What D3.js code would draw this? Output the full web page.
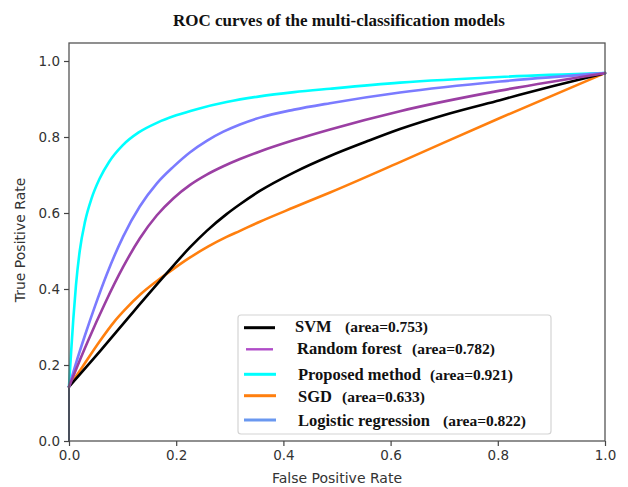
<!DOCTYPE html>
<html><head><meta charset="utf-8">
<script src="https://cdn.jsdelivr.net/npm/d3@7"></script>
<style>body{margin:0;background:#fff}</style>
</head><body><svg id="c" width="628" height="487"></svg>
<script>
// ---- data ----
const xTicks = [0, 0.2, 0.4, 0.6, 0.8, 1.0];
const yTicks = [0, 0.2, 0.4, 0.6, 0.8, 1.0];
const seriesNames = ["SVM", "Random forest", "Proposed method", "SGD", "Logistic regression"];
const seriesAreas = ["(area=0.753)", "(area=0.782)", "(area=0.921)", "(area=0.633)", "(area=0.822)"];

const svmFPR = [0, 0, 0.06, 0.12, 0.182, 0.226, 0.257, 0.294, 0.319, 0.356, 0.42, 0.487, 0.555, 0.6175, 0.71, 0.804, 0.9, 1.0];
const svmTPR = [0, 0.143, 0.24, 0.34, 0.441, 0.51, 0.553, 0.597, 0.623, 0.658, 0.707, 0.75, 0.788, 0.821, 0.862, 0.897, 0.933, 0.968];

const rfFPR = [0, 0, 0.015, 0.035, 0.067, 0.101, 0.132, 0.164, 0.195, 0.226, 0.257, 0.288, 0.319, 0.356, 0.42, 0.487, 0.6175, 0.804, 1.0];
const rfTPR = [0, 0.143, 0.195, 0.262, 0.362, 0.458, 0.533, 0.594, 0.639, 0.674, 0.701, 0.723, 0.742, 0.762, 0.792, 0.82, 0.868, 0.922, 0.968];

const propFPR = [0, 0, 0.004, 0.008, 0.013, 0.02, 0.03, 0.042, 0.057, 0.075, 0.1, 0.13, 0.165, 0.2, 0.24, 0.294, 0.356, 0.42, 0.487, 0.6175, 0.804, 1.0];
const propTPR = [0, 0.143, 0.235, 0.32, 0.41, 0.5, 0.578, 0.638, 0.69, 0.735, 0.778, 0.812, 0.838, 0.857, 0.874, 0.892, 0.907, 0.918, 0.927, 0.943, 0.958, 0.968];

const sgdFPR = [0, 0, 0.025, 0.057, 0.085, 0.104, 0.135, 0.164, 0.195, 0.226, 0.26, 0.294, 0.319, 0.356, 0.42, 0.487, 0.6175, 0.804, 1.0];
const sgdTPR = [0, 0.143, 0.195, 0.262, 0.315, 0.345, 0.388, 0.421, 0.453, 0.483, 0.512, 0.537, 0.553, 0.577, 0.615, 0.654, 0.734, 0.85, 0.968];

const lrFPR = [0, 0, 0.012, 0.03, 0.0485, 0.07, 0.101, 0.132, 0.164, 0.195, 0.226, 0.257, 0.288, 0.319, 0.356, 0.42, 0.487, 0.6175, 0.804, 1.0];
const lrTPR = [0, 0.143, 0.2, 0.279, 0.355, 0.437, 0.538, 0.617, 0.678, 0.722, 0.76, 0.79, 0.814, 0.833, 0.851, 0.872, 0.889, 0.917, 0.946, 0.968];

// ---- styles ----
const curveColors = ["#000000", "#9b3fa3", "#00ffff", "#ff7f0e", "#7b7bff"];
const legendColors = ["#000000", "#b04cc8", "#00ffff", "#ff7f0e", "#6a98f0"];

const svg = d3.select("#c");
const pLeft = 69, pRight = 605, pTop = 43, pBottom = 441;
const x = d3.scaleLinear().domain([0, 1]).range([pLeft, pRight]);
const y = d3.scaleLinear().domain([0, 1]).range([pBottom, 61]);

// title
svg.append("text").attr("x", 339).attr("y", 26).attr("text-anchor", "middle")
  .style("font-family", "'Liberation Serif','Times New Roman',serif").style("font-weight", "bold")
  .style("font-size", "17px").attr("fill", "#111").text("ROC curves of the multi-classification models");

// curves
const series = [
  [svmFPR, svmTPR], [rfFPR, rfTPR], [propFPR, propTPR], [sgdFPR, sgdTPR], [lrFPR, lrTPR]
];
const order = [3, 0, 2, 4, 1];
const lineLin = d3.line().x(d => x(d[0])).y(d => y(d[1]));
const lineMono = d3.line().x(d => x(d[0])).y(d => y(d[1])).curve(d3.curveMonotoneX);
const g = svg.append("g");
order.forEach(i => {
  const pts = series[i][0].map((f, k) => [f, series[i][1][k]]);
  g.append("path").attr("d", lineLin(pts.slice(0, 2))).attr("fill", "none")
    .attr("stroke", "#34466a").attr("stroke-width", 2);
  g.append("path").attr("d", lineMono(pts.slice(1))).attr("fill", "none")
    .attr("stroke", curveColors[i]).attr("stroke-width", 2.6).attr("stroke-linecap", "round");
});

// frame
svg.append("rect").attr("x", pLeft).attr("y", pTop).attr("width", pRight - pLeft).attr("height", pBottom - pTop)
  .attr("fill", "none").attr("stroke", "#555").attr("stroke-width", 1.3);

// axes
const fmt = d3.format(".1f");
const xa = svg.append("g").attr("transform", `translate(0,${pBottom})`)
  .call(d3.axisBottom(x).tickValues(xTicks).tickFormat(fmt).tickSize(5).tickPadding(4));
const ya = svg.append("g").attr("transform", `translate(${pLeft},0)`)
  .call(d3.axisLeft(y).tickValues(yTicks).tickFormat(fmt).tickSize(5).tickPadding(4));
[xa, ya].forEach(a => {
  a.select(".domain").remove();
  a.selectAll("line").attr("stroke", "#444").attr("stroke-width", 1.2);
  a.selectAll("text").style("font-family", "'DejaVu Sans',sans-serif").style("font-size", "13.5px").attr("fill", "#333");
});

svg.append("text").attr("x", 337).attr("y", 483).attr("text-anchor", "middle")
  .style("font-family", "'DejaVu Sans',sans-serif").style("font-size", "14px").attr("fill", "#333")
  .text("False Positive Rate");
svg.append("text").attr("transform", "translate(25,240) rotate(-90)").attr("text-anchor", "middle")
  .style("font-family", "'DejaVu Sans',sans-serif").style("font-size", "14px").attr("fill", "#333")
  .text("True Positive Rate");

// legend
const lg = svg.append("g");
lg.append("rect").attr("x", 238).attr("y", 315).attr("width", 313).attr("height", 119).attr("rx", 3)
  .attr("fill", "#fff").attr("stroke", "#d4d4d4").attr("stroke-width", 1.2);
const rowLineY = [327.7, 349.3, 374.3, 395.7, 420];
const rowBase = [332, 354, 379.5, 401.5, 425.5];
const nameX = [295, 297, 298, 298, 298];
const areaX = [345, 412, 430, 342, 443];
const lineX = [[244, 275], [246, 273], [244, 276], [244, 276], [244, 276]];
const serif = "'Liberation Serif','Times New Roman',serif";
seriesNames.forEach((n, i) => {
  lg.append("line").attr("x1", lineX[i][0]).attr("x2", lineX[i][1]).attr("y1", rowLineY[i]).attr("y2", rowLineY[i])
    .attr("stroke", legendColors[i]).attr("stroke-width", i === 1 ? 2.4 : 3);
  lg.append("text").attr("x", nameX[i]).attr("y", rowBase[i])
    .style("font-family", serif).style("font-weight", "bold").style("font-size", "16.5px")
    .attr("fill", "#111").text(n);
  lg.append("text").attr("x", areaX[i]).attr("y", rowBase[i])
    .style("font-family", serif).style("font-weight", "bold").style("font-size", "15.5px")
    .attr("fill", "#111").text(seriesAreas[i]);
});
</script></body></html>
